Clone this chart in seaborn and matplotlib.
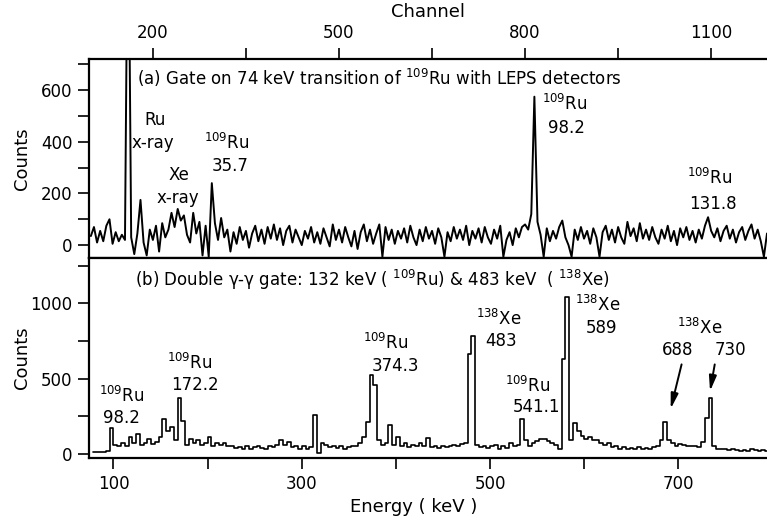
import numpy as np
import pandas as pd
import matplotlib
matplotlib.use("Agg")
import matplotlib.pyplot as plt
import seaborn as sns

# ---------------- data ----------------
# (a) LEPS spectrum, channel bins of width 5 (centres 100..1190)
channel_start = 100
channel_step = 5
counts_a = [
    35, 70, 10, 55, 15, 75, 100, 5, 50, 15,
    40, 20, 1500, 30, -35, 45, 175, 10, -40, 60,
    20, 75, -25, 85, 30, 60, 125, 70, 140, 95,
    115, 40, 10, 125, 45, 90, -40, 75, -45, 240,
    85, 20, 105, 30, 60, -25, 50, 5, 70, 20,
    55, -10, 45, 75, 15, 60, 5, 70, 25, 80,
    20, 65, 0, 55, 75, 10, 60, 30, 0, 55,
    25, 70, 10, 50, 5, 65, 30, -5, 80, 20,
    60, 10, 70, 30, -5, 55, -15, 50, 80, 15,
    60, 5, 45, 80, -45, 70, 20, 60, 5, 55,
    25, 65, 10, 75, 30, 0, 60, 15, 70, 25,
    55, 5, 65, 30, -45, 50, 15, 70, 25, 60,
    20, 75, 0, 55, 25, 65, 10, 70, 30, 5,
    60, 25, 75, -45, 20, 50, 0, 65, 30, 70,
    80, 60, 120, 575, 90, 40, -45, 65, 15, 55,
    25, 70, 95, 30, 0, -45, 60, 20, 70, 25,
    55, 5, 65, 30, -45, 50, 75, 20, 60, 10,
    70, 30, 5, 90, 35, 65, 15, 85, 25, 60,
    20, 70, 30, 5, 60, 25, 75, 15, 55, 0,
    65, 30, 70, 20, 55, 10, 60, 25, 75, 108,
    55, 30, 65, 15, 55, 75, 25, 60, 10, 50,
    70, 20, 55, 80, 25, 60, 15, -45, 45,
]

# (b) double-gated spectrum, energy bins of 4 keV (centres 78..794)
energy_start = 78
energy_step = 4
counts_b = [
    12, 14, 15, 16, 20, 175, 60, 55, 70, 55,
    110, 70, 130, 60, 75, 100, 65, 80, 115, 235,
    150, 180, 90, 370, 220, 60, 100, 75, 90, 60,
    70, 115, 55, 70, 60, 75, 50, 55, 40, 45,
    30, 50, 35, 45, 55, 40, 30, 50, 45, 60,
    95, 60, 80, 45, 55, 35, 50, 30, 45, 260,
    5, 70, 60, 45, 55, 40, 55, 35, 45, 55,
    55, 70, 115, 215, 525, 460, 90, 60, 75, 190,
    60, 110, 55, 70, 45, 60, 50, 70, 55, 105,
    45, 55, 40, 50, 45, 55, 60, 50, 65, 70,
    660, 780, 60, 45, 55, 40, 50, 60, 35, 50,
    40, 75, 55, 60, 235, 90, 55, 70, 85, 100,
    100, 85, 70, 60, 30, 630, 1040, 90, 205, 150,
    120, 100, 110, 90, 95, 75, 60, 75, 45, 50,
    35, 45, 30, 40, 35, 45, 30, 40, 35, 45,
    50, 95, 215, 90, 70, 55, 65, 60, 55, 50,
    55, 45, 80, 240, 370, 50, 35, 30, 35, 25,
    30, 25, 20, 25, 20, 30, 25, 20, 25, 20,
]

channel_ticks = [200, 500, 800, 1100]
energy_ticks = [100, 300, 500, 700]
counts_a_ticks = [0, 200, 400, 600]
counts_b_ticks = [0, 500, 1000]

channels = channel_start + channel_step * np.arange(len(counts_a))
energies = energy_start + energy_step * np.arange(len(counts_b))
df_a = pd.DataFrame({"Channel": channels, "Counts": counts_a})
df_b = pd.DataFrame({"Energy": energies, "Counts": counts_b})

# ---------------- style ----------------
sns.set_style("ticks")
plt.rcParams["font.family"] = ["DejaVu Sans"]
plt.rcParams["mathtext.fontset"] = "dejavusans"
plt.rcParams["mathtext.default"] = "regular"
for k in ("text.color", "axes.labelcolor", "xtick.color", "ytick.color", "axes.edgecolor"):
    plt.rcParams[k] = "black"

W, H = 767, 523
fig = plt.figure(figsize=(W / 100, H / 100), dpi=100)
left = 89 / W
right = 1.0
ax1 = fig.add_axes([left, 1 - 258 / H, right - left, (258 - 59) / H])
ax2 = fig.add_axes([left, 1 - 458 / H, right - left, (458 - 258) / H])

# ---------------- panel (a) ----------------
sns.lineplot(data=df_a, x="Channel", y="Counts", ax=ax1, color="black",
             linewidth=1.4, estimator=None, sort=False)
ax1.set_xlim(97, 1190)
ax1.set_ylim(-50, 721)
ax1.xaxis.tick_top()
ax1.xaxis.set_label_position("top")
ax1.set_xticks(channel_ticks)
ax1.set_xticks([350, 650, 950], minor=True)
ax1.set_yticks(counts_a_ticks)
ax1.set_yticks([100, 300, 500, 700], minor=True)
ax1.set_xlabel("Channel", fontsize=13, labelpad=5)
ax1.set_ylabel("Counts", fontsize=13)
ax1.yaxis.set_label_coords(-0.085, 0.5)

# ---------------- panel (b) ----------------
sns.lineplot(data=df_b, x="Energy", y="Counts", ax=ax2, color="black",
             linewidth=1.2, estimator=None, sort=False, drawstyle="steps-mid")
ax2.set_xlim(74, 794)
ax2.set_ylim(-27, 1300)
ax2.set_xticks(energy_ticks)
ax2.set_xticks([200, 400, 600], minor=True)
ax2.set_yticks(counts_b_ticks)
ax2.set_yticks([250, 750, 1250], minor=True)
ax2.set_xlabel("Energy ( keV )", fontsize=13)
ax2.xaxis.set_label_coords(0.479, -0.2)
ax2.set_ylabel("Counts", fontsize=13)
ax2.yaxis.set_label_coords(-0.085, 0.5)

for ax in (ax1, ax2):
    ax.spines["right"].set_visible(False)
    for s in ("left", "top", "bottom"):
        ax.spines[s].set_linewidth(1.6)
    ax.tick_params(which="both", direction="out", length=8, width=1.2,
                   labelsize=12, pad=4, color="black")
ax1.tick_params(axis="x", which="both", bottom=False, top=True)
ax2.tick_params(axis="x", which="both", top=False, bottom=True)

fs = 12
# annotations (a)
ax1.text(174, 647, "(a) Gate on 74 keV transition of $^{109}$Ru with LEPS detectors",
         fontsize=fs, ha="left", va="center")
ax1.text(203, 484, "Ru", fontsize=fs, ha="center", va="center")
ax1.text(200, 397, "x-ray", fontsize=fs, ha="center", va="center")
ax1.text(242, 271, "Xe", fontsize=fs, ha="center", va="center")
ax1.text(241, 184, "x-ray", fontsize=fs, ha="center", va="center")
ax1.text(319, 395, "$^{109}$Ru", fontsize=fs, ha="center", va="center")
ax1.text(324, 306, "35.7", fontsize=fs, ha="center", va="center")
ax1.text(864, 546, "$^{109}$Ru", fontsize=fs, ha="center", va="center")
ax1.text(866, 453, "98.2", fontsize=fs, ha="center", va="center")
ax1.text(1098, 260, "$^{109}$Ru", fontsize=fs, ha="center", va="center")
ax1.text(1103, 159, "131.8", fontsize=fs, ha="center", va="center")

# annotations (b)
ax2.text(123, 1154, "(b) Double γ-γ gate: 132 keV ( $^{109}$Ru) & 483 keV  ( $^{138}$Xe)",
         fontsize=fs, ha="left", va="center")
labels_b = [
    (109, 385, "$^{109}$Ru"), (108, 241, "98.2"),
    (181, 603, "$^{109}$Ru"), (187, 457, "172.2"),
    (389, 738, "$^{109}$Ru"), (399, 584, "374.3"),
    (509, 895, "$^{138}$Xe"), (512, 749, "483"),
    (540, 451, "$^{109}$Ru"), (549, 314, "541.1"),
    (614, 988, "$^{138}$Xe"), (618, 835, "589"),
    (723, 835, "$^{138}$Xe"), (699, 690, "688"), (755, 690, "730"),
]
for x, y, t in labels_b:
    ax2.text(x, y, t, fontsize=fs, ha="center", va="center")

arrow_kw = dict(arrowstyle="-|>,head_length=0.9,head_width=0.22", color="black", lw=1.4)
ax2.annotate("", xy=(691, 281), xytext=(704, 612), arrowprops=arrow_kw)
ax2.annotate("", xy=(733, 398), xytext=(739, 612), arrowprops=arrow_kw)

fig.savefig("out.png", dpi=100)
